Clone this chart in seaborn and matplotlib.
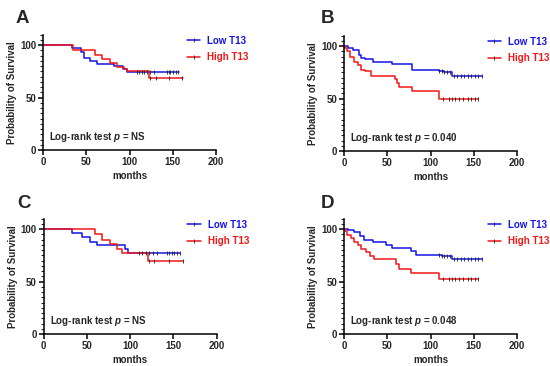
import numpy as np
import pandas as pd
import matplotlib
matplotlib.use("Agg")
import matplotlib.pyplot as plt
from matplotlib.lines import Line2D
from matplotlib.ticker import MultipleLocator
import seaborn as sns

# ---------------- data ----------------
# Panel A
low_t_A = [0, 33, 44, 47, 54, 62, 82, 92, 97, 157]
low_s_A = [100, 97, 93, 88, 85, 82, 80, 77, 74, 74]
high_t_A = [0, 35, 60, 68, 77, 85, 93, 97, 122, 162]
high_s_A = [100, 95, 91, 87, 83, 79, 77, 75, 69, 69]
low_c_A = [108, 111, 114, 117, 120, 124, 128, 143, 145, 147, 150, 153, 156]
high_c_A = [124, 131, 145, 160]

# Panel B
low_t_B = [0, 5, 10, 17, 20, 24, 33, 55, 79, 110, 116, 125, 160]
low_s_B = [100, 98, 96, 92, 89, 88, 85, 83, 77, 76, 75, 72, 72]
high_t_B = [0, 1, 4, 7, 12, 16, 20, 24, 31, 59, 61, 63, 79, 110, 155]
high_s_B = [100, 98, 95, 90, 85, 82, 77, 76, 72, 69, 65, 61, 57, 50, 50]
low_c_B = [110, 113, 116, 119, 122, 127, 131, 135, 139, 143, 147, 151, 155, 160]
high_c_B = [115, 121, 125, 128, 133, 138, 143, 147, 151, 155]

# Panel C
low_t_C = [0, 33, 44, 54, 62, 94, 97, 157]
low_s_C = [100, 96, 92, 88, 85, 81, 77, 77]
high_t_C = [0, 59, 67, 77, 85, 90, 120, 161]
high_s_C = [100, 95, 90, 86, 81, 77, 70, 70]
low_c_C = [110, 114, 118, 122, 126, 131, 143, 145, 148, 151, 154, 157]
high_c_C = [122, 128, 145, 161]

# Panel D
low_t_D = [0, 5, 11, 18, 23, 33, 48, 55, 78, 83, 113, 125, 160]
low_s_D = [100, 99, 97, 93, 90, 88, 85, 82, 79, 75, 74, 71, 71]
high_t_D = [0, 1, 4, 8, 12, 16, 20, 25, 30, 35, 60, 63, 78, 110, 155]
high_s_D = [100, 98, 94, 91, 88, 85, 81, 78, 74, 71, 67, 62, 58, 52, 52]
low_c_D = [110, 113, 116, 119, 122, 127, 131, 135, 139, 143, 147, 151, 155, 160]
high_c_D = [115, 121, 125, 128, 133, 138, 143, 147, 151, 155]

panel_letters = ["A", "B", "C", "D"]
p_values = ["NS", "0.040", "NS", "0.048"]
group_names = ["Low T13", "High T13"]
group_colors = ["#1515e6", "#f21818"]

panels = [
    (low_t_A, low_s_A, low_c_A, high_t_A, high_s_A, high_c_A),
    (low_t_B, low_s_B, low_c_B, high_t_B, high_s_B, high_c_B),
    (low_t_C, low_s_C, low_c_C, high_t_C, high_s_C, high_c_C),
    (low_t_D, low_s_D, low_c_D, high_t_D, high_s_D, high_c_D),
]

# ---------------- style ----------------
sns.set_style("ticks")
plt.rcParams["font.family"] = ["Liberation Sans", "DejaVu Sans"]
plt.rcParams["font.weight"] = "bold"
plt.rcParams["axes.labelweight"] = "bold"
plt.rcParams["mathtext.fontset"] = "custom"
plt.rcParams["mathtext.it"] = "Liberation Sans:italic:bold"
plt.rcParams["mathtext.rm"] = "Liberation Sans:bold"

fig = plt.figure(figsize=(5.5, 3.66), dpi=100)

# axes positions in figure fractions (left, bottom, width, height)
positions = [
    (0.0785, 0.590, 0.3145, 0.3156),
    (0.6255, 0.587, 0.3145, 0.3156),
    (0.0795, 0.0874, 0.3145, 0.3156),
    (0.6255, 0.0874, 0.3145, 0.3156),
]
letter_pos = [(0.029, 0.973), (0.584, 0.973), (0.031, 0.466), (0.584, 0.466)]


def step_value(times, surv, t):
    idx = np.searchsorted(times, t, side="right") - 1
    return np.asarray(surv)[idx]


for i, (lt, ls, lc, ht, hs, hc) in enumerate(panels):
    ax = fig.add_axes(positions[i])
    for t, s, c, name, col in [(lt, ls, lc, group_names[0], group_colors[0]),
                               (ht, hs, hc, group_names[1], group_colors[1])]:
        df = pd.DataFrame({"months": t, "surv": s})
        sns.lineplot(data=df, x="months", y="surv", ax=ax, color=col,
                     drawstyle="steps-post", lw=1.1, estimator=None,
                     errorbar=None, clip_on=False)
        cdf = pd.DataFrame({"months": c, "surv": step_value(t, s, c)})
        sns.scatterplot(data=cdf, x="months", y="surv", ax=ax, marker="|",
                        color="#222222", s=5, linewidth=0.6, zorder=5,
                        clip_on=False)

    ax.set_xlim(0, 200)
    ax.set_ylim(0, 110)
    ax.set_xticks([0, 50, 100, 150, 200])
    ax.set_yticks([0, 50, 100])
    ax.yaxis.set_minor_locator(MultipleLocator(5))
    for side in ["top", "right"]:
        ax.spines[side].set_visible(False)
    for side in ["left", "bottom"]:
        ax.spines[side].set_linewidth(1.1)
        ax.spines[side].set_color("black")
    ax.tick_params(axis="both", which="major", length=3.5, width=1.1,
                   labelsize=7, pad=1.5, color="black")
    ax.tick_params(axis="y", which="minor", length=2, width=0.8)
    ax.set_xlabel("months", fontsize=7, labelpad=3)
    ax.set_ylabel("Probability of Survival", fontsize=7, labelpad=2)

    ax.text(0.035, 0.115, "Log-rank test $p$ = " + p_values[i],
            transform=ax.transAxes, fontsize=7, fontweight="bold",
            va="center", ha="left")

    handles = [Line2D([0], [0], color=group_colors[k], lw=1.1, marker="|",
                      markeredgecolor="#222222", markersize=2.2, mew=0.6)
               for k in range(2)]
    leg = ax.legend(handles, group_names, loc="upper left",
                    bbox_to_anchor=(0.83, 0.99), frameon=False,
                    fontsize=7, handlelength=1.4, handletextpad=0.7,
                    labelspacing=0.65, borderpad=0, borderaxespad=0,
                    numpoints=1)
    for txt, col in zip(leg.get_texts(), group_colors):
        txt.set_color(col)
        txt.set_fontweight("bold")

    fig.text(letter_pos[i][0], letter_pos[i][1], panel_letters[i],
             fontsize=13.5, fontweight="bold", ha="left", va="top")

fig.savefig("out.png", dpi=100)
